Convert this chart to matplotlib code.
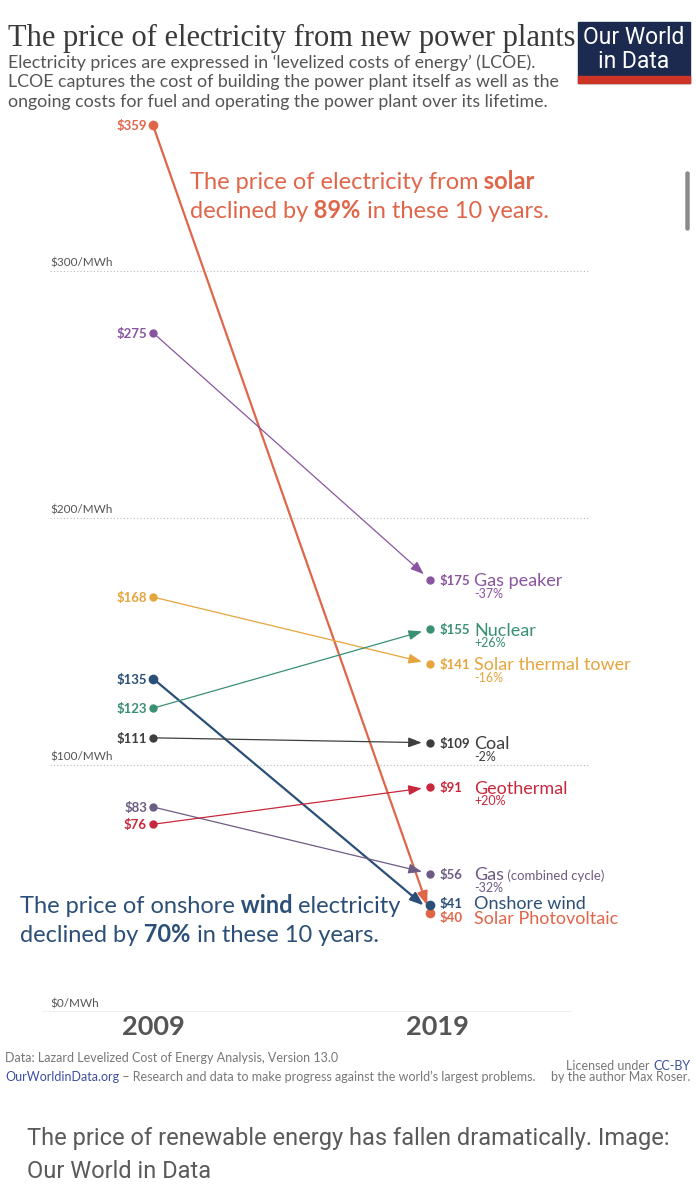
import matplotlib.pyplot as plt
import matplotlib.transforms as mtransforms
from matplotlib.patches import Rectangle, FancyBboxPatch

# Dados (LCOE, $/MWh)
fontes = ['Solar Photovoltaic', 'Gas peaker', 'Solar thermal tower', 'Onshore wind',
          'Nuclear', 'Coal', 'Gas', 'Geothermal']
preco_2009 = [359, 275, 168, 135, 123, 111, 83, 76]
preco_2019 = [40, 175, 141, 41, 155, 109, 56, 91]
variacao = ['', '-37%', '-16%', '', '+26%', '-2%', '-32%', '+20%']
grade = [0, 100, 200, 300]
anos = [2009, 2019]

cores = ['#e0664a', '#8a55a0', '#e6a53c', '#2b4f77', '#3a8f74', '#3d3f3d', '#6e5b84', '#c8283c']
grossa = [True, False, False, True, False, False, False, False]
# deslocamento vertical (px) dos pontos/rotulos de 2019 p/ nao sobrepor
desloc_ponto = [0, 0, 0, 6, 0, 0, 0, 0]
desloc_rotulo = [-4, 0, 0, 8, 0, 0, 0, 0]

W, H = 696, 1200
PT = 0.72  # 1 px em pontos (dpi 100)
CINZA = '#555555'

fig = plt.figure(figsize=(W / 100, H / 100), dpi=100)

# eixo de fundo em pixels, para textos do cabecalho/rodape
bg = fig.add_axes([0, 0, 1, 1], zorder=0)
bg.set_xlim(0, W)
bg.set_ylim(H, 0)
bg.axis('off')

# eixo principal
px_ano = (430 - 153) / 10
px_val = 2.47
ax = fig.add_axes([42 / W, (H - 1012) / H, (590 - 42) / W, 370 * px_val / H], zorder=1)
ax.set_xlim(2009 - 111 / px_ano, 2019 + 160 / px_ano)
ax.set_ylim(0, 370)
ax.axis('off')

for v in grade:
    if v == 0:
        ax.axhline(v, xmin=0, xmax=528 / 548, color='#b0b0b0', lw=1)
    else:
        ax.axhline(v, xmin=8 / 548, xmax=546 / 548, color='#b8b8b8', lw=0.8, ls=(0, (1, 2)))
    ax.annotate(f'${v}/MWh', xy=(8 / 548, v), xycoords=('axes fraction', 'data'),
                xytext=(0, 1.5), textcoords='offset points', fontsize=8.5, color=CINZA,
                va='bottom', family='Lato')

for a in anos:
    ax.annotate(str(a), xy=(a, 0), xytext=(0 if a == 2009 else 7 * PT, -3 * PT),
                textcoords='offset points', ha='center', va='top', fontsize=19.5,
                fontweight='bold', color=CINZA, family='Lato')

for i in range(len(fontes)):
    c = cores[i]
    lw = 1.6 if grossa[i] else 0.9
    ms = 7 if grossa[i] else 6
    y0, y1 = preco_2009[i], preco_2019[i]
    ax.annotate('', xy=(2019, y1), xytext=(2009, y0),
                arrowprops=dict(arrowstyle='-|>,head_length=0.8,head_width=0.3',
                                color=c, lw=lw, shrinkA=2, shrinkB=6, mutation_scale=10))
    ax.plot([2009], [y0], 'o', color=c, ms=ms, mec='none', zorder=3)
    tr = mtransforms.offset_copy(ax.transData, fig=fig, x=0, y=desloc_ponto[i] * PT, units='points')
    ax.plot([2019], [y1], 'o', color=c, ms=ms, mec='none', zorder=3, transform=tr)

    ax.annotate(f'${y0}', xy=(2009, y0), xytext=(-6 * PT, 0), textcoords='offset points',
                ha='right', va='center_baseline', fontsize=9.5, fontweight='bold',
                color=c, family='Lato')
    dy = desloc_rotulo[i] * PT
    ax.annotate(f'${y1}', xy=(2019, y1), xytext=(10 * PT, dy), textcoords='offset points',
                ha='left', va='center_baseline', fontsize=9.5, fontweight='bold',
                color=c, family='Lato')
    nome = ax.annotate(fontes[i], xy=(2019, y1), xytext=(44 * PT, dy), textcoords='offset points',
                       ha='left', va='center_baseline', fontsize=13, color=c, family='Lato')
    if fontes[i] == 'Gas':
        ax.annotate(' (combined cycle)', xy=(1, 0.08), xycoords=nome, ha='left', va='bottom',
                    fontsize=9.5, color=c, family='Lato')
    if variacao[i]:
        ax.annotate(variacao[i], xy=(2019, y1), xytext=(44 * PT, dy - 13 * PT),
                    textcoords='offset points', ha='left', va='center_baseline',
                    fontsize=9, color=c, family='Lato')


def linha_rica(x, y, partes, cor, tam):
    t = bg.text(x, y, partes[0][0], fontsize=tam, color=cor, fontweight=partes[0][1],
                family='Lato', va='baseline', ha='left')
    for s, w in partes[1:]:
        t = bg.annotate(s, xy=(1, 0), xycoords=t, fontsize=tam, color=cor, fontweight=w,
                        family='Lato', va='bottom', ha='left')


# anotacoes
linha_rica(190, 189, [('The price of electricity from', 'normal'), (' solar', 'bold')], cores[0], 17)
linha_rica(190, 218, [('declined by', 'normal'), (' 89%', 'bold'), (' in these 10 years.', 'normal')], cores[0], 17)
linha_rica(20, 913, [('The price of onshore', 'normal'), (' wind', 'bold'), (' electricity', 'normal')], cores[3], 17)
linha_rica(20, 942, [('declined by', 'normal'), (' 70%', 'bold'), (' in these 10 years.', 'normal')], cores[3], 17)

# cabecalho
bg.text(8, 46, 'The price of electricity from new power plants', fontsize=22,
        family='Liberation Serif', color='#3a3a3a', va='baseline')
sub = ['Electricity prices are expressed in \u2018levelized costs of energy\u2019 (LCOE).',
       'LCOE captures the cost of building the power plant itself as well as the',
       'ongoing costs for fuel and operating the power plant over its lifetime.']
for k, s in enumerate(sub):
    bg.text(8, 68 + 19.5 * k, s, fontsize=12.8, family='Lato', color=CINZA, va='baseline')

bg.add_patch(Rectangle((578, 22), 112, 61, color='#1b2a4e', zorder=2))
bg.add_patch(Rectangle((578, 76), 112, 7, color='#cc3526', zorder=3))
bg.text(634, 38, 'Our World', fontsize=16.5, family='Roboto', color='white', ha='center', va='center', zorder=4)
bg.text(634, 61, 'in Data', fontsize=16.5, family='Roboto', color='white', ha='center', va='center', zorder=4)

# barra de rolagem do print
bg.add_patch(FancyBboxPatch((686, 172), 3, 58, boxstyle='round,pad=0,rounding_size=1.5',
                            color='#8a8a8a', zorder=2))

# rodape
bg.text(5, 1062, 'Data: Lazard Levelized Cost of Energy Analysis, Version 13.0', fontsize=9,
        family='Lato', color='#777777', va='baseline')
t = bg.text(5, 1081, 'OurWorldinData.org', fontsize=9, family='Lato', color='#3d4f9f', va='baseline')
bg.annotate(' \u2013 Research and data to make progress against the world\u2019s largest problems.',
            xy=(1, 0), xycoords=t, fontsize=9, family='Lato', color='#777777', va='bottom')
t = bg.text(690, 1070, 'CC-BY', fontsize=9, family='Lato', color='#3d4f9f', va='baseline', ha='right')
bg.annotate('Licensed under ', xy=(0, 0), xycoords=t, fontsize=9, family='Lato',
            color='#777777', va='bottom', ha='right')
bg.text(690, 1081, 'by the author Max Roser.', fontsize=9, family='Lato', color='#777777',
        va='baseline', ha='right')

# legenda da imagem
bg.text(27, 1145, 'The price of renewable energy has fallen dramatically. Image:', fontsize=17,
        family='Roboto', color='#5a5a5a', va='baseline')
bg.text(27, 1178, 'Our World in Data', fontsize=17, family='Roboto', color='#5a5a5a', va='baseline')

fig.savefig('out.png', dpi=100)
